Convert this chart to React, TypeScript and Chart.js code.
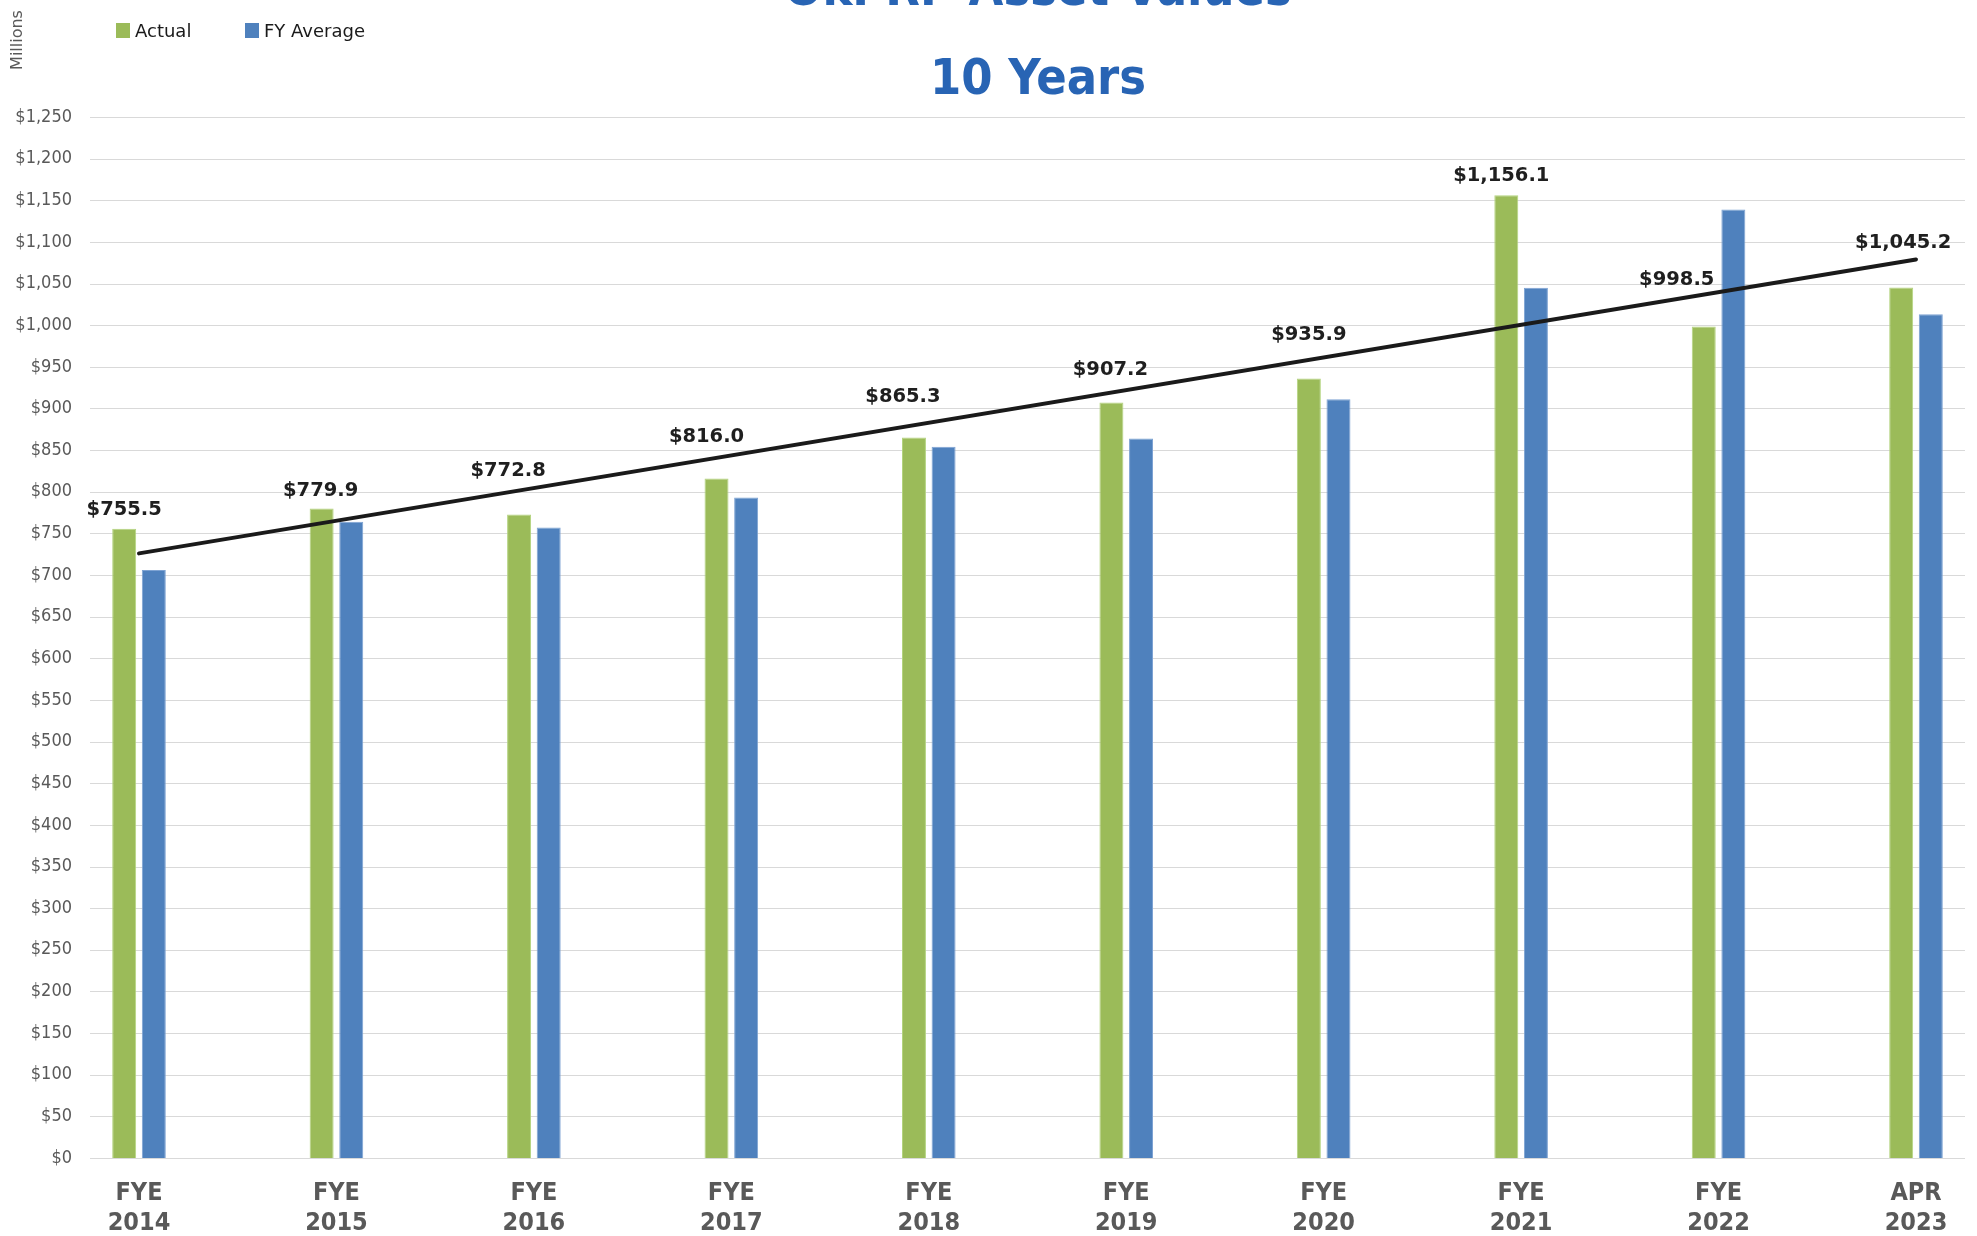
import React, { useEffect, useRef } from 'react';
import { Chart, registerables } from 'chart.js';

Chart.register(...registerables);

// ---------- data ----------
const categories = ['FYE 2014', 'FYE 2015', 'FYE 2016', 'FYE 2017', 'FYE 2018', 'FYE 2019', 'FYE 2020', 'FYE 2021', 'FYE 2022', 'APR 2023'];
const actualValues = [755.5, 779.9, 772.8, 816.0, 865.3, 907.2, 935.9, 1156.1, 998.5, 1045.2];
const fyAverageValues = [706, 764, 757, 793, 854, 864, 911, 1045, 1139, 1013];
const trendValues = [726, null, null, null, null, null, null, null, null, 1079];
const seriesNames = ['Actual', 'FY Average'];
const yMin = 0;
const yMax = 1250;
const yStep = 50;
const titleLines = ['OkPRP Asset Values', '10 Years'];
const unitLabel = 'Millions';

// ---------- layout / style ----------
const W = 1977;
const H = 1236;
const GREEN = '#9bbb59';
const BLUE = '#4f81bd';
const GRID = '#d9d9d9';
const AXIS_TEXT = '#595959';
const TITLE_BLUE = '#2864b4';
const SANS = "'DejaVu Sans', sans-serif";
const COND = "'DejaVu Sans Condensed', 'DejaVu Sans', sans-serif";
// per-label nudges (px) of the value labels relative to the bar top centre
const labelNudges = [[0, -19], [-1, -18], [-11, -43], [-10, -41], [-11, -40], [-1, -33], [0, -44], [-5, -19], [-27, -47], [2, -45]];

const fmtMoney = (v: number, digits: number) =>
  '$' + v.toLocaleString('en-US', { minimumFractionDigits: digits, maximumFractionDigits: digits });

const decorPlugin = {
  id: 'decor',
  beforeDatasetsDraw(chart: any) {
    const ctx = chart.ctx;
    const y = chart.scales.y;
    ctx.save();
    ctx.strokeStyle = GRID;
    ctx.lineWidth = 1.2;
    for (let v = yMin; v <= yMax; v += yStep) {
      const py = Math.round(y.getPixelForValue(v)) + 0.5;
      ctx.beginPath();
      ctx.moveTo(90, py);
      ctx.lineTo(1965, py);
      ctx.stroke();
    }
    ctx.restore();
  },
  afterDraw(chart: any) {
    const ctx = chart.ctx;
    ctx.save();
    // titles
    ctx.fillStyle = TITLE_BLUE;
    ctx.textAlign = 'center';
    ctx.textBaseline = 'alphabetic';
    ctx.font = `bold 50px ${COND}`;
    ctx.fillText(titleLines[0], 1038, 5);
    ctx.fillText(titleLines[1], 1038, 94);

    // unit label
    ctx.save();
    ctx.translate(18, 40);
    ctx.rotate(-Math.PI / 2);
    ctx.fillStyle = AXIS_TEXT;
    ctx.font = `16px ${SANS}`;
    ctx.textAlign = 'center';
    ctx.textBaseline = 'middle';
    ctx.fillText(unitLabel, 0, 0);
    ctx.restore();

    // legend
    const items = [
      { x: 116, color: GREEN, text: chart.data.datasets[1].label },
      { x: 245, color: BLUE, text: chart.data.datasets[2].label },
    ];
    ctx.font = `18px ${SANS}`;
    ctx.textAlign = 'left';
    ctx.textBaseline = 'alphabetic';
    for (const it of items) {
      ctx.fillStyle = it.color;
      ctx.fillRect(it.x, 23, 14, 15);
      ctx.fillStyle = '#1a1a1a';
      ctx.fillText(it.text, it.x + 19, 37);
    }

    // value labels on Actual bars
    const meta = chart.getDatasetMeta(1);
    ctx.font = `bold 19.5px ${SANS}`;
    ctx.fillStyle = '#1f1f1f';
    ctx.textAlign = 'center';
    ctx.textBaseline = 'middle';
    meta.data.forEach((bar: any, i: number) => {
      const [dx, dy] = labelNudges[i];
      ctx.fillText(fmtMoney(actualValues[i], 1), bar.x + dx, bar.y + dy);
    });
    ctx.restore();
  },
};

export default function App() {
  const ref = useRef<HTMLCanvasElement | null>(null);

  useEffect(() => {
    if (!ref.current) return;
    const chart = new Chart(ref.current, {
      type: 'bar',
      data: {
        labels: categories.map((c) => c.split(' ')),
        datasets: [
          {
            type: 'line',
            label: 'Trend',
            data: trendValues,
            borderColor: '#1a1a1a',
            borderWidth: 4,
            borderCapStyle: 'round',
            pointRadius: 0,
            spanGaps: true,
            fill: false,
            clip: false,
            order: 0,
          } as any,
          {
            label: seriesNames[0],
            data: actualValues,
            backgroundColor: GREEN,
            borderColor: '#b4d47f',
            borderWidth: 1,
            categoryPercentage: 0.3,
            barPercentage: 0.81,
            clip: false,
            order: 1,
          },
          {
            label: seriesNames[1],
            data: fyAverageValues,
            backgroundColor: BLUE,
            borderColor: '#7ea3d3',
            borderWidth: 1,
            categoryPercentage: 0.3,
            barPercentage: 0.81,
            clip: false,
            order: 1,
          },
        ],
      },
      options: {
        responsive: false,
        animation: false,
        devicePixelRatio: 1,
        layout: { padding: { left: 0, right: W - 1916, top: 117, bottom: 0 } },
        plugins: {
          legend: { display: false },
          title: { display: false },
          tooltip: { enabled: false },
        },
        scales: {
          x: {
            offset: false,
            grid: { display: false, drawTicks: false },
            border: { display: false },
            ticks: {
              color: AXIS_TEXT,
              font: { family: COND, size: 25, weight: 'bold', lineHeight: 1.2 },
              padding: 20,
              maxRotation: 0,
              autoSkip: false,
            },
            afterFit: (s: any) => { s.height = H - 1158; },
          },
          y: {
            min: yMin,
            max: yMax,
            grid: { display: false, drawTicks: false },
            border: { display: false },
            ticks: {
              stepSize: yStep,
              color: AXIS_TEXT,
              font: { family: COND, size: 18 },
              padding: 139 - 72,
              callback: (v: any) => fmtMoney(Number(v), 0),
            },
            afterFit: (s: any) => { s.width = 139; },
          },
        },
      } as any,
      plugins: [decorPlugin],
    });
    return () => chart.destroy();
  }, []);

  return (
    <div style={{ position: 'fixed', left: 0, top: 0, width: W, height: H, background: '#fff', overflow: 'hidden' }}>
      <canvas ref={ref} width={W} height={H} style={{ display: 'block', width: W, height: H }} />
    </div>
  );
}
